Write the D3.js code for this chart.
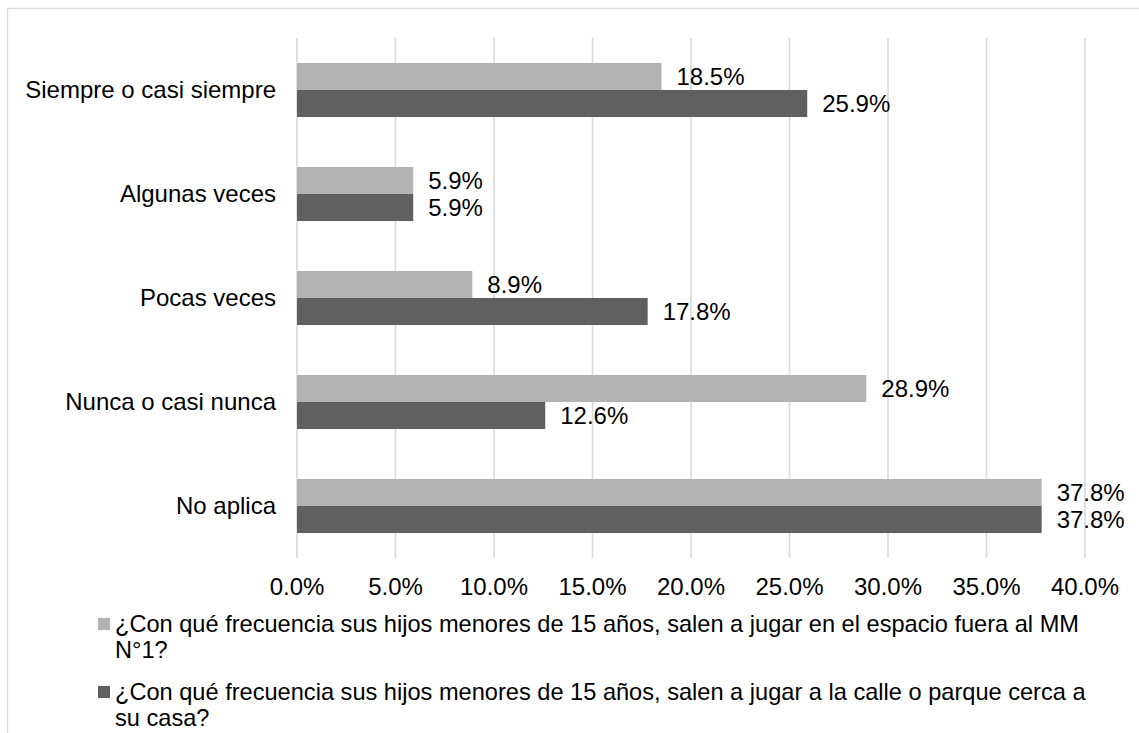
<!DOCTYPE html>
<html>
<head>
<meta charset="utf-8">
<script src="https://cdn.jsdelivr.net/npm/d3@7"></script>
<style>
  body { margin: 0; background: #fff; }
  text { font-family: "Liberation Sans", Arial, sans-serif; fill: #000; }
</style>
</head>
<body>
<div id="chart-area"></div>
<script>
(function () {
  // Data
  const categories = [
    "Siempre o casi siempre",
    "Algunas veces",
    "Pocas veces",
    "Nunca o casi nunca",
    "No aplica"
  ];
  const seriesNames = [
    ["¿Con qué frecuencia sus hijos menores de 15 años, salen a jugar en el espacio fuera al MM", "N°1?"],
    ["¿Con qué frecuencia sus hijos menores de 15 años, salen a jugar a la calle o parque cerca a", "su casa?"]
  ];
  const espacioValues = [18.5, 5.9, 8.9, 28.9, 37.8];
  const calleValues = [25.9, 5.9, 17.8, 12.6, 37.8];
  const xTicks = [0, 5, 10, 15, 20, 25, 30, 35, 40];

  const colors = ["#b3b3b3", "#606060"];
  const width = 1139;
  const height = 733;
  const plot = { left: 297, right: 1085, top: 38, bottom: 558 };

  const svg = d3
    .select("#chart-area")
    .append("svg")
    .attr("width", width)
    .attr("height", height);

  // Chart frame (only top and left are visible)
  svg.append("rect")
    .attr("x", 7.5)
    .attr("y", 8.5)
    .attr("width", 1140)
    .attr("height", 740)
    .attr("fill", "none")
    .attr("stroke", "#d9d9d9")
    .attr("stroke-width", 1.3);

  const x = d3.scaleLinear().domain([0, 40]).range([plot.left, plot.right]);
  const y = d3.scaleBand()
    .domain(categories)
    .range([plot.top, plot.bottom])
    .paddingInner(0.48)
    .paddingOuter(0.24);
  const ySub = d3.scaleBand().domain([0, 1]).range([0, y.bandwidth()]);

  // Vertical gridlines
  svg.append("g")
    .selectAll("line")
    .data(xTicks)
    .join("line")
    .attr("x1", d => x(d))
    .attr("x2", d => x(d))
    .attr("y1", plot.top)
    .attr("y2", plot.bottom)
    .attr("stroke", "#d9d9d9")
    .attr("stroke-width", 1.6);

  // Tick labels
  svg.append("g")
    .selectAll("text")
    .data(xTicks)
    .join("text")
    .attr("x", d => x(d))
    .attr("y", 595)
    .attr("text-anchor", "middle")
    .attr("font-size", 24)
    .text(d => d.toFixed(1) + "%");

  // Category labels
  svg.append("g")
    .selectAll("text")
    .data(categories)
    .join("text")
    .attr("x", 276)
    .attr("y", d => y(d) + y.bandwidth() / 2)
    .attr("dy", "0.32em")
    .attr("text-anchor", "end")
    .attr("font-size", 24)
    .text(d => d);

  const rows = [];
  categories.forEach((c, i) => {
    rows.push({ cat: c, s: 0, v: espacioValues[i] });
    rows.push({ cat: c, s: 1, v: calleValues[i] });
  });

  // Bars
  svg.append("g")
    .selectAll("rect")
    .data(rows)
    .join("rect")
    .attr("x", x(0))
    .attr("y", d => y(d.cat) + ySub(d.s))
    .attr("width", d => x(d.v) - x(0))
    .attr("height", ySub.bandwidth())
    .attr("fill", d => colors[d.s]);

  // Value labels
  svg.append("g")
    .selectAll("text")
    .data(rows)
    .join("text")
    .attr("x", d => x(d.v) + 15)
    .attr("y", d => y(d.cat) + ySub(d.s) + ySub.bandwidth() / 2)
    .attr("dy", "0.36em")
    .attr("font-size", 24)
    .text(d => d.v.toFixed(1) + "%");

  // Legend
  const legend = svg.append("g");
  seriesNames.forEach((lines, i) => {
    const top = 618 + i * 68;
    legend.append("rect")
      .attr("x", 98)
      .attr("y", top)
      .attr("width", 12)
      .attr("height", 12)
      .attr("fill", colors[i]);
    const t = legend.append("text")
      .attr("x", 115)
      .attr("y", top + 14)
      .attr("font-size", 23.6);
    lines.forEach((ln, j) => {
      t.append("tspan")
        .attr("x", 115)
        .attr("dy", j === 0 ? 0 : 26)
        .text(ln);
    });
  });
})();
</script>
</body>
</html>
